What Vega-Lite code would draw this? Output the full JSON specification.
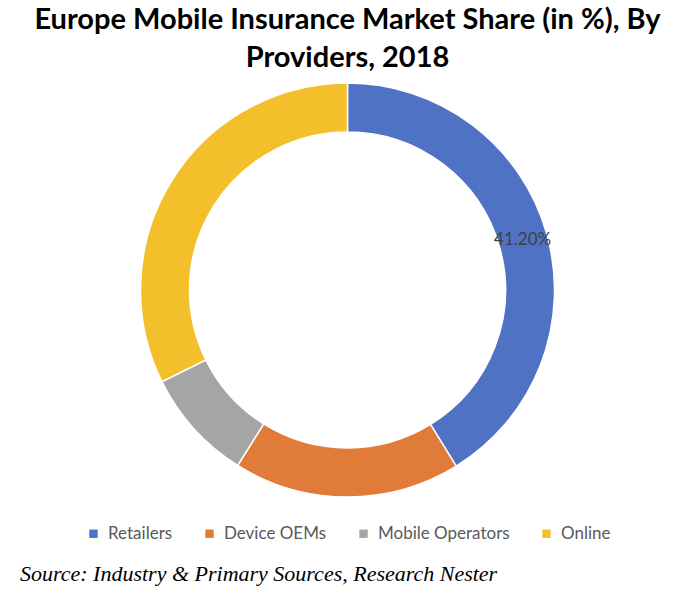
{
  "$schema": "https://vega.github.io/schema/vega-lite/v6.json",
  "background": "white",
  "padding": {"left": 0, "right": 0, "top": 6, "bottom": 0},
  "spacing": 20,
  "resolve": {"legend": {"color": "independent"}},
  "config": {
    "view": {"stroke": null},
    "font": "Lato",
    "legend": {"layout": {"bottom": {"anchor": "middle"}}}
  },
  "vconcat": [
    {
      "title": {
        "text": ["Europe Mobile Insurance Market Share (in %), By", "Providers, 2018"],
        "font": "Lato",
        "fontSize": 29,
        "fontWeight": "bold",
        "color": "#000000",
        "lineHeight": 38,
        "anchor": "middle",
        "offset": 7
      },
      "width": 695,
      "height": 420,
      "data": {
        "values": [
          {"provider": "Retailers", "share": 0.412, "order": 1},
          {"provider": "Device OEMs", "share": 0.177, "order": 2},
          {"provider": "Mobile Operators", "share": 0.088, "order": 3},
          {"provider": "Online", "share": 0.323, "order": 4}
        ]
      },
      "encoding": {
        "theta": {"field": "share", "type": "quantitative", "stack": true},
        "order": {"field": "order", "type": "quantitative"}
      },
      "layer": [
        {
          "mark": {"type": "arc", "outerRadius": 207, "innerRadius": 158, "stroke": "white", "strokeWidth": 1.5},
          "encoding": {
            "color": {
              "field": "provider",
              "type": "nominal",
              "sort": ["Retailers", "Device OEMs", "Mobile Operators", "Online"],
              "scale": {
                "domain": ["Retailers", "Device OEMs", "Mobile Operators", "Online"],
                "range": ["#4F72C4", "#E07B39", "#A5A5A5", "#F3C02B"]
              },
              "legend": {
                "title": null,
                "orient": "bottom",
                "direction": "horizontal",
                "symbolType": "square",
                "symbolSize": 70,
                "symbolStrokeWidth": 0,
                "labelFont": "Lato",
                "labelFontSize": 17,
                "labelColor": "#595959",
                "labelOffset": 6,
                "columnPadding": 28,
                "offset": 25
              }
            }
          }
        },
        {
          "mark": {"type": "text", "radius": 182, "fontSize": 17, "font": "Lato", "color": "#404040"},
          "encoding": {
            "text": {
              "condition": {"test": "datum.provider == 'Retailers'", "field": "share", "type": "quantitative", "format": ".2%"},
              "value": ""
            }
          }
        }
      ]
    },
    {
      "width": 695,
      "height": 1,
      "title": {
        "text": "Source: Industry & Primary Sources, Research Nester",
        "orient": "top",
        "anchor": "start",
        "dx": 20,
        "font": "Liberation Serif",
        "fontStyle": "italic",
        "fontWeight": "normal",
        "fontSize": 22,
        "color": "#000000"
      },
      "data": {"values": [{"blank": ""}]},
      "mark": {"type": "text"},
      "encoding": {"text": {"field": "blank", "type": "nominal"}}
    }
  ]
}
